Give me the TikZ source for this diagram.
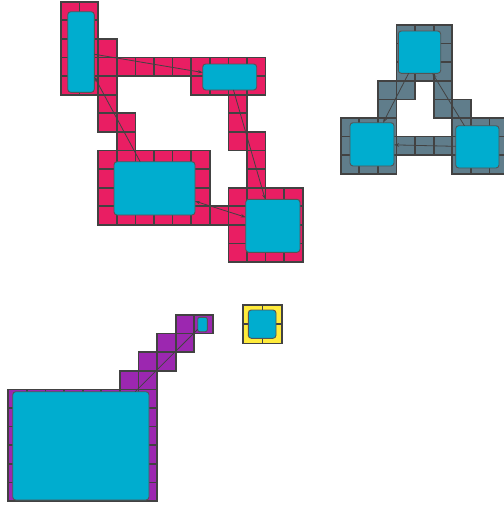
\documentclass[tikz,border=0pt]{standalone}
\usetikzlibrary{arrows.meta}
\definecolor{CellPink}{RGB}{233, 30, 99}
\definecolor{CellSlate}{RGB}{96, 125, 139}
\definecolor{CellPurple}{RGB}{156, 39, 176}
\definecolor{CellYellow}{RGB}{255, 235, 59}
\definecolor{BoxCyan}{RGB}{0, 173, 207}
\definecolor{GridDark}{RGB}{66, 66, 66}

\begin{document}
\begin{tikzpicture}[
    x=1pt, y=-1pt,
    cell/.style={draw=GridDark, line width=1.7pt},
    box/.style={rectangle, draw=GridDark!90, fill=BoxCyan, rounded corners=3pt, line width=0.9pt, inner sep=0pt, outer sep=0pt},
    link/.style={draw=GridDark, line width=0.8pt, -{Stealth[length=5pt, width=3.5pt]}},
    both/.style={link, {Stealth[length=5pt, width=3.5pt]}-{Stealth[length=5pt, width=3.5pt]}}
]
\clip (0,0) rectangle (504,507);
\useasboundingbox (0,0) rectangle (504,507);

% pink cluster
\foreach \r/\a/\b in {0/0/1, 1/0/1, 2/0/2, 3/0/10, 4/0/2, 4/7/10, 5/2/2, 5/9/9, 6/2/3, 6/9/9, 7/3/3, 7/9/10,
    8/2/7, 8/10/10, 9/2/7, 9/10/10, 10/2/7, 10/9/12, 11/2/12, 12/9/12, 13/9/12}
  \foreach \c in {\a,...,\b}
    \draw[cell, fill=CellPink] ({61+18.6*\c},{1.7+18.6*\r}) rectangle ++(18.6,18.6);

% slate cluster
\foreach \r/\a/\b in {0/3/5, 1/3/5, 2/3/5, 3/2/3, 3/5/5, 4/2/2, 4/5/6, 5/0/2, 5/6/8, 6/0/8, 7/0/2, 7/6/8}
  \foreach \c in {\a,...,\b}
    \draw[cell, fill=CellSlate] ({340.7+18.6*\c},{25+18.6*\r}) rectangle ++(18.6,18.6);

% purple cluster
\foreach \r/\a/\b in {0/9/10, 1/8/9, 2/7/8, 3/6/7, 4/0/7, 5/0/7, 6/0/7, 7/0/7, 8/0/7, 9/0/7}
  \foreach \c in {\a,...,\b}
    \draw[cell, fill=CellPurple] ({8.3+18.6*\c},{315+18.6*\r}) rectangle ++(18.6,18.6);

% yellow single
\foreach \r in {0,1}
  \foreach \c in {0,1}
    \draw[cell, fill=CellYellow] ({243.3+19.2*\c},{305+19.2*\r}) rectangle ++(19.2,19.2);

\node[box, minimum width=26.6pt, minimum height=80.6pt] (tall) at (81,52) {};
\node[box, minimum width=54pt, minimum height=26pt] (flat) at (229.7,77) {};
\node[box, minimum width=81pt, minimum height=53.3pt] (wide) at (154.5,188.35) {};
\node[box, minimum width=54.3pt, minimum height=53pt] (square) at (272.85,225.8) {};

\node[box, minimum width=42.4pt, minimum height=42.3pt] (top) at (419.5,52.15) {};
\node[box, minimum width=44pt, minimum height=43.3pt] (left) at (372,144.35) {};
\node[box, minimum width=43.3pt, minimum height=42.3pt] (right) at (477.35,146.85) {};

\node[box, minimum width=136.3pt, minimum height=108.3pt] (big) at (80.85,445.85) {};
\node[box, rounded corners=2pt, minimum width=9.6pt, minimum height=14.4pt] (tiny) at (202.5,324.5) {};

\node[box, minimum width=27.7pt, minimum height=28.3pt] (lone) at (262.15,324.15) {};

\draw[link] (tall) -- (flat);
\draw[link] (flat) -- (square);
\draw[link] (wide) -- (tall);
\draw[both] (wide) -- (square);

\draw[link] (top) -- (left);
\draw[link] (right) -- (top);
\draw[link] (right) -- (left);

\draw[draw=GridDark, line width=0.8pt] (big) -- (tiny);
\end{tikzpicture}
\end{document}
